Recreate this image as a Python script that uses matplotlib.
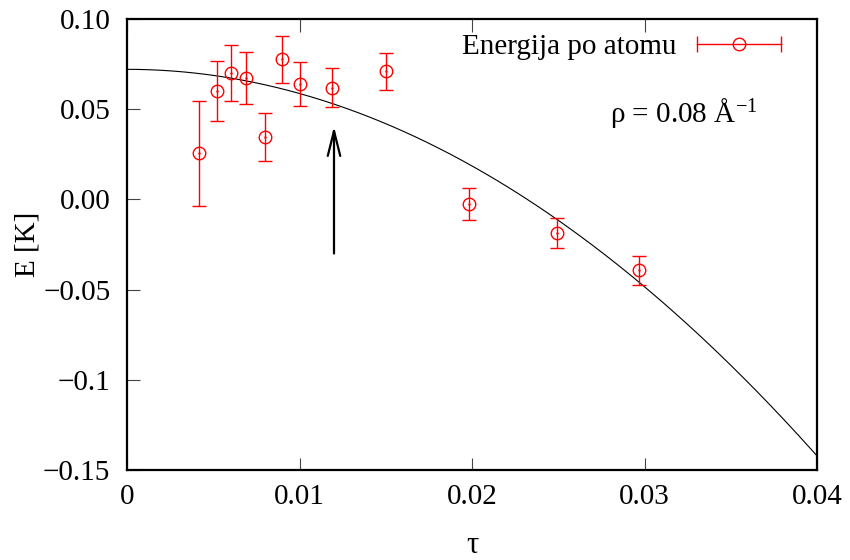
import numpy as np
import matplotlib
matplotlib.use("Agg")
import matplotlib.pyplot as plt
from matplotlib.lines import Line2D
from matplotlib.legend_handler import HandlerLine2D, HandlerTuple

plt.rcParams['font.family'] = ['Liberation Serif', 'DejaVu Serif']
plt.rcParams['mathtext.fontset'] = 'custom'
plt.rcParams['mathtext.rm'] = 'Liberation Serif'
plt.rcParams['mathtext.it'] = 'Liberation Serif:italic'

# Data
tau = [0.0042, 0.0052, 0.0060, 0.0069, 0.0080, 0.0090, 0.0100, 0.0119, 0.0150, 0.0198, 0.0249, 0.0297]
energy = [0.0256, 0.0600, 0.0700, 0.0672, 0.0346, 0.0776, 0.0639, 0.0620, 0.0709, -0.0026, -0.0185, -0.0394]
err = [0.0292, 0.0167, 0.0154, 0.0145, 0.0133, 0.0129, 0.0122, 0.0110, 0.0100, 0.0088, 0.0084, 0.0083]

# fit parameters E(tau) = E0 - a*tau^2
E0 = 0.0721
a_fit = 133.9

xticks = [0, 0.01, 0.02, 0.03, 0.04]
xticklabels = ['0', '0.01', '0.02', '0.03', '0.04']
yticks = [0.10, 0.05, 0.00, -0.05, -0.1, -0.15]
yticklabels = ['0.10', '0.05', '0.00', '\u22120.05', '\u22120.1', '\u22120.15']

arrow_x = 0.012
arrow_from = -0.030
arrow_to = 0.0405

fig = plt.figure(figsize=(8.5, 5.6), dpi=100)
ax = fig.add_axes([127/850, 1-470/560, (817-127)/850, (470-19)/560])

xs = np.linspace(0, 0.04, 300)
ax.plot(xs, E0 - a_fit*xs**2, color='black', lw=0.8)

ax.errorbar(tau, energy, yerr=err, fmt='o', color='red', mfc='none', mec='red',
            ms=9, mew=1.0, elinewidth=1.0, capsize=5, capthick=1.0, ecolor='red')
ax.plot(tau, energy, ls='none', marker='.', ms=1.5, color='red')

ax.annotate('', xy=(arrow_x, arrow_to), xytext=(arrow_x, arrow_from),
            arrowprops=dict(arrowstyle='->,head_length=1.8,head_width=0.45', color='black', lw=1.6,
                            shrinkA=0, shrinkB=0))

ax.set_xlim(0, 0.04)
ax.set_ylim(-0.15, 0.10)
ax.set_xticks(xticks)
ax.set_xticklabels(xticklabels)
ax.set_yticks(yticks)
ax.set_yticklabels(yticklabels)
ax.tick_params(axis='x', direction='in', length=9, width=0.8, top=True, labelsize=21, pad=10, color='#444444')
ax.tick_params(axis='y', direction='in', length=9, width=0.8, right=False, labelsize=21, pad=12, color='#444444')
for s in ax.spines.values():
    s.set_linewidth(1.6)

ax.set_xlabel('\u03c4', fontsize=22)
ax.set_ylabel('E [K]', fontsize=21)
ax.xaxis.set_label_coords(0.5, -0.135)
ax.yaxis.set_label_coords(-0.125, 0.5)

ax.text(0.70, 0.772, '\u03c1 = 0.08 \u00c5$^{\u22121}$', transform=ax.transAxes,
        fontsize=21, ha='left', va='baseline')

h1 = Line2D([], [], color='red', lw=1.0, marker='o', mfc='none', mec='red', ms=9)
h2 = Line2D([], [], color='red', ls='none', marker='|', ms=11, mew=1.0)
leg = ax.legend([(h1, h2)], ['Energija po atomu'], loc='center right',
                bbox_to_anchor=(0.948, 0.938), frameon=False, markerfirst=False,
                handlelength=2.9, handletextpad=0.7, borderpad=0, borderaxespad=0,
                fontsize=21,
                handler_map={h1: HandlerLine2D(numpoints=1, marker_pad=0),
                             h2: HandlerLine2D(numpoints=2, marker_pad=0),
                             tuple: HandlerTuple(ndivide=1, pad=0)})

fig.savefig('out.png', dpi=100)
